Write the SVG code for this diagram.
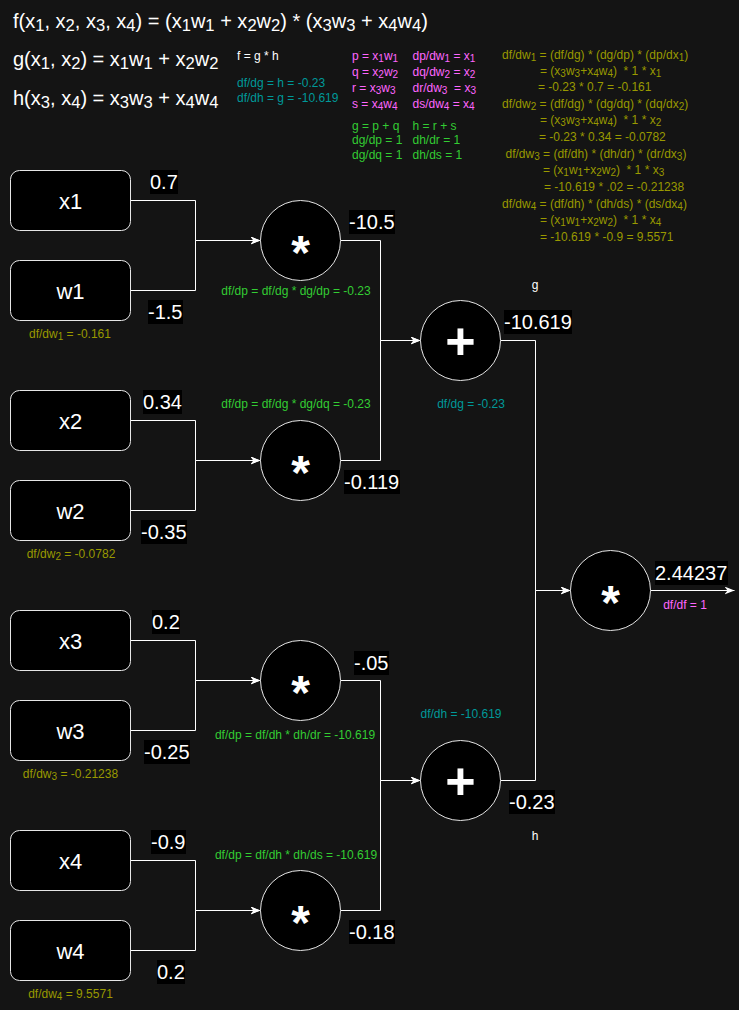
<svg xmlns="http://www.w3.org/2000/svg" width="739" height="1010" viewBox="0 0 739 1010">
<defs>
<marker id="arr" markerUnits="userSpaceOnUse" markerWidth="10" markerHeight="8" refX="10" refY="4" orient="auto">
<path d="M0,0 L10,4 L0,8 L3,4 Z" fill="#ffffff"/>
</marker>
<style>
text{font-family:"Liberation Sans",Arial,Helvetica,sans-serif}
.big{font-size:20px;fill:#ffffff}
.sm{font-size:12px}
.s20{font-size:16.6px;baseline-shift:-3px}
.s12{font-size:10px;baseline-shift:-2px}
.wh{fill:#ffffff}
.cy{fill:#009999}
.mg{fill:#ff66ff}
.gr{fill:#33cc33}
.ol{fill:#999900}
.box{fill:#000000;stroke:#e6e6e6;stroke-width:1}
.op{fill:#000000;stroke:#e6e6e6;stroke-width:1}
.nl{font-size:22px;fill:#ffffff;text-anchor:middle}
.sym{font-size:48px;font-weight:bold;fill:#ffffff;text-anchor:middle}
.plus{font-size:52px;font-weight:bold;fill:#ffffff;text-anchor:middle}
.edge{fill:none;stroke:#ffffff;stroke-width:1}
.vbg{fill:#000000}
.val{font-size:20px;fill:#ffffff}
.mid{text-anchor:middle}
</style>
</defs>
<rect x="0" y="0" width="739" height="1010" fill="#141414"/>

<g id="formulas">
<text class="big" x="13" y="28">f(x<tspan class="s20">1</tspan>, x<tspan class="s20">2</tspan>, x<tspan class="s20">3</tspan>, x<tspan class="s20">4</tspan>) = (x<tspan class="s20">1</tspan>w<tspan class="s20">1</tspan> + x<tspan class="s20">2</tspan>w<tspan class="s20">2</tspan>) * (x<tspan class="s20">3</tspan>w<tspan class="s20">3</tspan> + x<tspan class="s20">4</tspan>w<tspan class="s20">4</tspan>)</text>
<text class="big" x="13" y="66">g(x<tspan class="s20">1</tspan>, x<tspan class="s20">2</tspan>) = x<tspan class="s20">1</tspan>w<tspan class="s20">1</tspan> + x<tspan class="s20">2</tspan>w<tspan class="s20">2</tspan></text>
<text class="big" x="13" y="105">h(x<tspan class="s20">3</tspan>, x<tspan class="s20">4</tspan>) = x<tspan class="s20">3</tspan>w<tspan class="s20">3</tspan> + x<tspan class="s20">4</tspan>w<tspan class="s20">4</tspan></text>

<text class="sm wh" x="237" y="60">f = g * h</text>
<text class="sm cy" x="237" y="87">df/dg = h = -0.23</text>
<text class="sm cy" x="237" y="102">df/dh = g = -10.619</text>

<text class="sm mg" x="352" y="60">p = x<tspan class="s12">1</tspan>w<tspan class="s12">1</tspan></text>
<text class="sm mg" x="352" y="76">q = x<tspan class="s12">2</tspan>w<tspan class="s12">2</tspan></text>
<text class="sm mg" x="352" y="92">r = x<tspan class="s12">3</tspan>w<tspan class="s12">3</tspan></text>
<text class="sm mg" x="352" y="107.5">s = x<tspan class="s12">4</tspan>w<tspan class="s12">4</tspan></text>
<text class="sm mg" x="412.5" y="60">dp/dw<tspan class="s12">1</tspan> = x<tspan class="s12">1</tspan></text>
<text class="sm mg" x="412.5" y="76">dq/dw<tspan class="s12">2</tspan> = x<tspan class="s12">2</tspan></text>
<text class="sm mg" x="412.5" y="92" xml:space="preserve">dr/dw<tspan class="s12">3</tspan>  = x<tspan class="s12">3</tspan></text>
<text class="sm mg" x="412.5" y="107.5">ds/dw<tspan class="s12">4</tspan> = x<tspan class="s12">4</tspan></text>

<text class="sm gr" x="352" y="130">g = p + q</text>
<text class="sm gr" x="352" y="144">dg/dp = 1</text>
<text class="sm gr" x="352" y="159">dg/dq = 1</text>
<text class="sm gr" x="412.5" y="130">h = r + s</text>
<text class="sm gr" x="412.5" y="144">dh/dr = 1</text>
<text class="sm gr" x="412.5" y="159">dh/ds = 1</text>

<text class="sm ol" x="502" y="58.5">df/dw<tspan class="s12">1</tspan> = (df/dg) * (dg/dp) * (dp/dx<tspan class="s12">1</tspan>)</text>
<text class="sm ol" x="540" y="75.3" xml:space="preserve">= (x<tspan class="s12">3</tspan>w<tspan class="s12">3</tspan>+x<tspan class="s12">4</tspan>w<tspan class="s12">4</tspan>)  * 1 * x<tspan class="s12">1</tspan></text>
<text class="sm ol" x="538" y="90.7">= -0.23 * 0.7 = -0.161</text>
<text class="sm ol" x="502" y="107.7">df/dw<tspan class="s12">2</tspan> = (df/dg) * (dg/dq) * (dq/dx<tspan class="s12">2</tspan>)</text>
<text class="sm ol" x="540" y="124" xml:space="preserve">= (x<tspan class="s12">3</tspan>w<tspan class="s12">3</tspan>+x<tspan class="s12">4</tspan>w<tspan class="s12">4</tspan>)  * 1 * x<tspan class="s12">2</tspan></text>
<text class="sm ol" x="539" y="141">= -0.23 * 0.34 = -0.0782</text>
<text class="sm ol" x="505.5" y="157.8">df/dw<tspan class="s12">3</tspan> = (df/dh) * (dh/dr) * (dr/dx<tspan class="s12">3</tspan>)</text>
<text class="sm ol" x="543" y="174" xml:space="preserve">= (x<tspan class="s12">1</tspan>w<tspan class="s12">1</tspan>+x<tspan class="s12">2</tspan>w<tspan class="s12">2</tspan>)  * 1 * x<tspan class="s12">3</tspan></text>
<text class="sm ol" x="544" y="190.7">= -10.619 * .02 = -0.21238</text>
<text class="sm ol" x="502" y="207.7">df/dw<tspan class="s12">4</tspan> = (df/dh) * (dh/ds) * (ds/dx<tspan class="s12">4</tspan>)</text>
<text class="sm ol" x="540" y="224" xml:space="preserve">= (x<tspan class="s12">1</tspan>w<tspan class="s12">1</tspan>+x<tspan class="s12">2</tspan>w<tspan class="s12">2</tspan>)  * 1 * x<tspan class="s12">4</tspan></text>
<text class="sm ol" x="540" y="241">= -10.619 * -0.9 = 9.5571</text>
</g>

<g id="connectors" transform="translate(0.5,0.5)">
<path class="edge" d="M130,200 H195 V240 H260" marker-end="url(#arr)"/>
<path class="edge" d="M130,290 H195 V240 H260" marker-end="url(#arr)"/>
<path class="edge" d="M130,420 H195 V460 H260" marker-end="url(#arr)"/>
<path class="edge" d="M130,510 H195 V460 H260" marker-end="url(#arr)"/>
<path class="edge" d="M130,640 H195 V680 H260" marker-end="url(#arr)"/>
<path class="edge" d="M130,730 H195 V680 H260" marker-end="url(#arr)"/>
<path class="edge" d="M130,860 H195 V910 H260" marker-end="url(#arr)"/>
<path class="edge" d="M130,950 H195 V910 H260" marker-end="url(#arr)"/>
<path class="edge" d="M340,240 H380 V340 H420" marker-end="url(#arr)"/>
<path class="edge" d="M340,460 H380 V340 H420" marker-end="url(#arr)"/>
<path class="edge" d="M340,680 H380 V780 H420" marker-end="url(#arr)"/>
<path class="edge" d="M340,910 H380 V780 H420" marker-end="url(#arr)"/>
<path class="edge" d="M500,340 H535 V590 H570" marker-end="url(#arr)"/>
<path class="edge" d="M500,780 H535 V590 H570" marker-end="url(#arr)"/>
<path class="edge" d="M650,590 H734" marker-end="url(#arr)"/>
</g>

<g id="nodes" transform="translate(0.5,0.5)">
<g id="n-x1"><rect class="box" x="10" y="170" width="120" height="60" rx="9"/><text class="nl" x="70" y="208">x1</text></g>
<g id="n-w1"><rect class="box" x="10" y="260" width="120" height="60" rx="9"/><text class="nl" x="70" y="298">w1</text></g>
<g id="n-x2"><rect class="box" x="10" y="390" width="120" height="60" rx="9"/><text class="nl" x="70" y="428">x2</text></g>
<g id="n-w2"><rect class="box" x="10" y="480" width="120" height="60" rx="9"/><text class="nl" x="70" y="518">w2</text></g>
<g id="n-x3"><rect class="box" x="10" y="610" width="120" height="60" rx="9"/><text class="nl" x="70" y="648">x3</text></g>
<g id="n-w3"><rect class="box" x="10" y="700" width="120" height="60" rx="9"/><text class="nl" x="70" y="738">w3</text></g>
<g id="n-x4"><rect class="box" x="10" y="830" width="120" height="60" rx="9"/><text class="nl" x="70" y="868">x4</text></g>
<g id="n-w4"><rect class="box" x="10" y="920" width="120" height="60" rx="9"/><text class="nl" x="70" y="958">w4</text></g>

<g id="n-mul1"><circle class="op" cx="300" cy="240" r="40"/><text class="sym" x="300" y="268">*</text></g>
<g id="n-mul2"><circle class="op" cx="300" cy="460" r="40"/><text class="sym" x="300" y="488">*</text></g>
<g id="n-mul3"><circle class="op" cx="300" cy="680" r="40"/><text class="sym" x="300" y="708">*</text></g>
<g id="n-mul4"><circle class="op" cx="300" cy="910" r="40"/><text class="sym" x="300" y="938">*</text></g>
<g id="n-add-g"><circle class="op" cx="460" cy="340" r="40"/><text class="plus" x="460" y="358.7">+</text></g>
<g id="n-add-h"><circle class="op" cx="460" cy="780" r="40"/><text class="plus" x="460" y="798.7">+</text></g>
<g id="n-mul-f"><circle class="op" cx="610" cy="590" r="40"/><text class="sym" x="610" y="618">*</text></g>
</g>

<g id="values">
<rect class="vbg" x="150" y="170" width="28" height="24"/><text class="val" x="150" y="188.5">0.7</text>
<rect class="vbg" x="148" y="300" width="35" height="24"/><text class="val" x="148" y="318.5">-1.5</text>
<rect class="vbg" x="349" y="210" width="46" height="24"/><text class="val" x="349" y="228.5">-10.5</text>
<rect class="vbg" x="504" y="310" width="68" height="24"/><text class="val" x="504" y="328.5">-10.619</text>
<rect class="vbg" x="143" y="390" width="39" height="24"/><text class="val" x="143" y="408.5">0.34</text>
<rect class="vbg" x="141" y="520" width="46" height="24"/><text class="val" x="141" y="538.5">-0.35</text>
<rect class="vbg" x="344" y="470" width="56" height="24"/><text class="val" x="344" y="488.5">-0.119</text>
<rect class="vbg" x="655" y="561" width="73" height="24"/><text class="val" x="655" y="579.5">2.44237</text>
<rect class="vbg" x="152" y="610" width="28" height="24"/><text class="val" x="152" y="628.5">0.2</text>
<rect class="vbg" x="144" y="740" width="46" height="24"/><text class="val" x="144" y="758.5">-0.25</text>
<rect class="vbg" x="354" y="651" width="35" height="24"/><text class="val" x="354" y="669.5">-.05</text>
<rect class="vbg" x="509" y="790" width="46" height="24"/><text class="val" x="509" y="808.5">-0.23</text>
<rect class="vbg" x="151" y="830" width="35" height="24"/><text class="val" x="151" y="848.5">-0.9</text>
<rect class="vbg" x="157" y="960" width="28" height="24"/><text class="val" x="157" y="978.5">0.2</text>
<rect class="vbg" x="349" y="920" width="46" height="24"/><text class="val" x="349" y="938.5">-0.18</text>
</g>

<g id="labels">
<text class="sm mid" fill="#ffffff" x="535" y="289">g</text>
<text class="sm mid" fill="#ffffff" x="535" y="840">h</text>
<text class="sm gr mid" x="296" y="295">df/dp = df/dg * dg/dp = -0.23</text>
<text class="sm gr mid" x="296" y="408">df/dp = df/dg * dg/dq = -0.23</text>
<text class="sm gr mid" x="295" y="739">df/dp = df/dh * dh/dr = -10.619</text>
<text class="sm gr mid" x="296" y="859">df/dp = df/dh * dh/ds = -10.619</text>
<text class="sm cy mid" x="471" y="408">df/dg = -0.23</text>
<text class="sm cy mid" x="461" y="718">df/dh = -10.619</text>
<text class="sm mg mid" x="685" y="609">df/df = 1</text>
<text class="sm ol mid" x="70" y="338">df/dw<tspan class="s12">1</tspan> = -0.161</text>
<text class="sm ol mid" x="71" y="558">df/dw<tspan class="s12">2</tspan> = -0.0782</text>
<text class="sm ol mid" x="70.5" y="778">df/dw<tspan class="s12">3</tspan> = -0.21238</text>
<text class="sm ol mid" x="70.5" y="998">df/dw<tspan class="s12">4</tspan> = 9.5571</text>
</g>
</svg>
